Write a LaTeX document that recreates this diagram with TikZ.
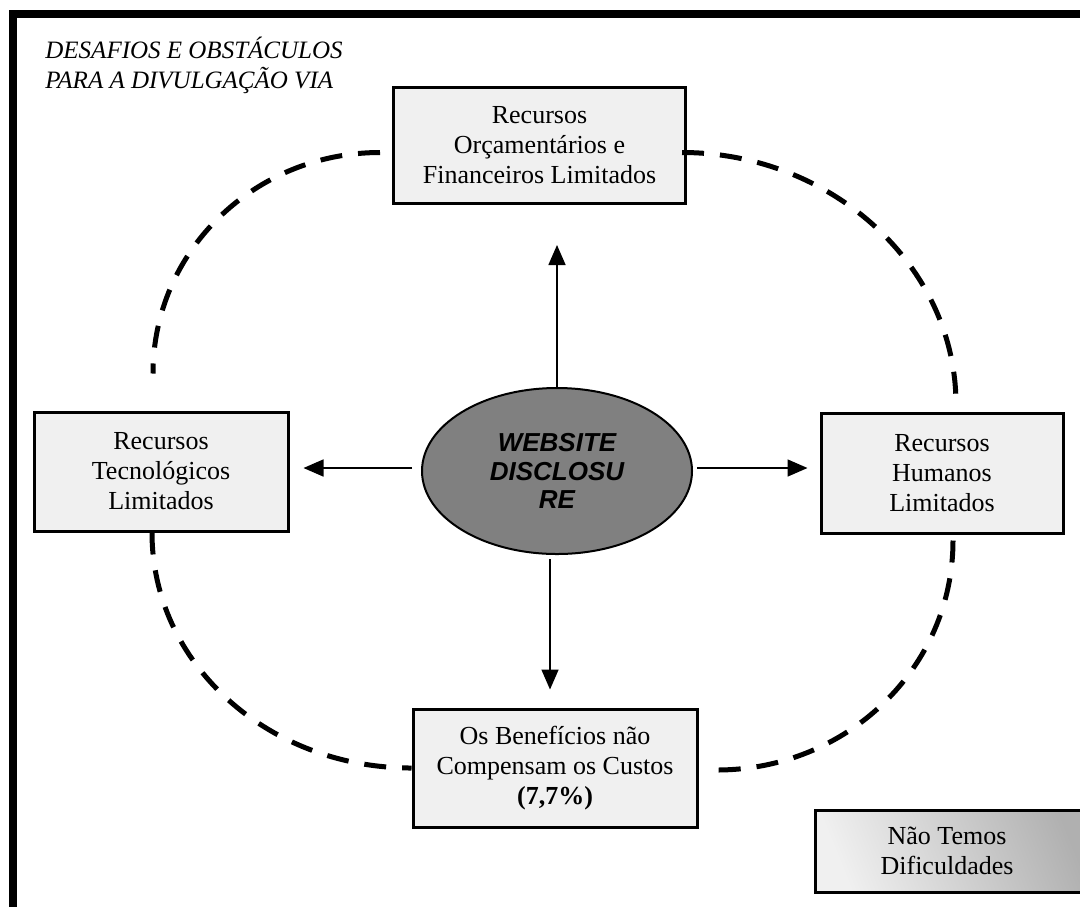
\documentclass[tikz,border=0pt]{standalone}
\usepackage{fontspec}
\setmainfont{Liberation Serif}
\newfontfamily\arialfont{Liberation Sans}
\usetikzlibrary{arrows.meta,shapes.geometric,calc}
\definecolor{boxfill}{RGB}{240,240,240}
\definecolor{ellfill}{RGB}{128,128,128}
\begin{document}
\begin{tikzpicture}[x=0.5pt,y=-0.5pt,
  box/.style={draw=black,line width=1.5pt,fill=boxfill,align=center,
    font=\fontsize{13}{15}\selectfont,inner sep=0pt},
  arr/.style={line width=0.8pt,-{Triangle[length=10pt,width=8.5pt]}},
  ring/.style={line width=2.5pt,dash pattern=on 11pt off 8pt}]
\useasboundingbox (0,0) rectangle (1080,906);
\clip (0,0) rectangle (1080,906);
\fill[white] (0,0) rectangle (1080,906);
% outer frame
\draw[line width=4pt] (12.5,14) rectangle (1100,930);
% title
\node[anchor=north west,inner sep=0pt,align=left,
  font=\itshape\fontsize{12.5}{15}\selectfont] (title) at (45,37)
  {DESAFIOS E OBSTÁCULOS\\PARA A DIVULGAÇÃO VIA};
% boxes
\node[box,minimum width=146pt,minimum height=58pt] (top) at (539.5,145.5)
  {Recursos\\Orçamentários e\\Financeiros Limitados};
\node[box,minimum width=127pt,minimum height=59.5pt] (left) at (161,471.5)
  {Recursos\\Tecnológicos\\Limitados};
\node[box,minimum width=121pt,minimum height=60pt] (right) at (942,473)
  {Recursos\\Humanos\\Limitados};
\node[box,minimum width=142pt,minimum height=59pt] (bottom) at (555,768)
  {Os Benefícios não\\Compensam os Custos\\\textbf{(7,7\%)}};
\node[box,fill=none,top color=gray!62,bottom color=boxfill,shading angle=-68,
  minimum width=140pt,minimum height=41pt,align=center] (none) at (955,851)
  {Não Temos\hspace*{8pt}\\Dificuldades\hspace*{8pt}};
% center ellipse
\node[ellipse,draw=black,line width=1pt,fill=ellfill,inner sep=0pt,
  minimum width=135pt,minimum height=83pt,align=center,
  font=\arialfont\bfseries\itshape\fontsize{13}{14.3}\selectfont] (ell) at (557,471)
  {WEBSITE\\DISCLOSU\\RE};
% arrows
\draw[arr] (ell.north) -- ($(ell.north |- top.south)+(0,40)$);
\draw[arr] ($(ell.west)+(-9,-3)$) -- ($(ell.west -| left.east)+(14,-3)$);
\draw[arr] ($(ell.east)+(4,-3)$) -- ($(ell.east -| right.west)+(-12,-3)$);
\draw[arr] ($(ell.south)+(-7,4)$) -- ($(ell.south |- bottom.north)+(-7,-18)$);
% dashed ring
\coordinate (tl1) at ($(top.west)+(-12,7)$);
\coordinate (tl2) at ($(left.north)+(-8,-37)$);
\coordinate (tr1) at ($(top.east)+(-5,7)$);
\coordinate (tr2) at ($(right.north)+(14,-7)$);
\coordinate (br1) at ($(right.south)+(11,6)$);
\coordinate (br2) at ($(bottom.east)+(18,2)$);
\coordinate (bl1) at ($(left.south)+(-9,0)$);
\coordinate (bl2) at ($(bottom.west)+(0,0)$);
\draw[ring] (tl1) .. controls ($(tl1)+(-125,0)$) and ($(tl2)+(0,-123)$) .. (tl2);
\draw[ring] (tr1) .. controls ($(tr1)+(148,0)$) and ($(tr2)+(0,-140)$) .. (tr2);
\draw[ring] (br1) .. controls ($(br1)+(0,127)$) and ($(br2)+(131,0)$) .. (br2);
\draw[ring] (bl1) .. controls ($(bl1)+(0,131)$) and ($(bl2)+(-144,0)$) .. (bl2);
\end{tikzpicture}
\end{document}
